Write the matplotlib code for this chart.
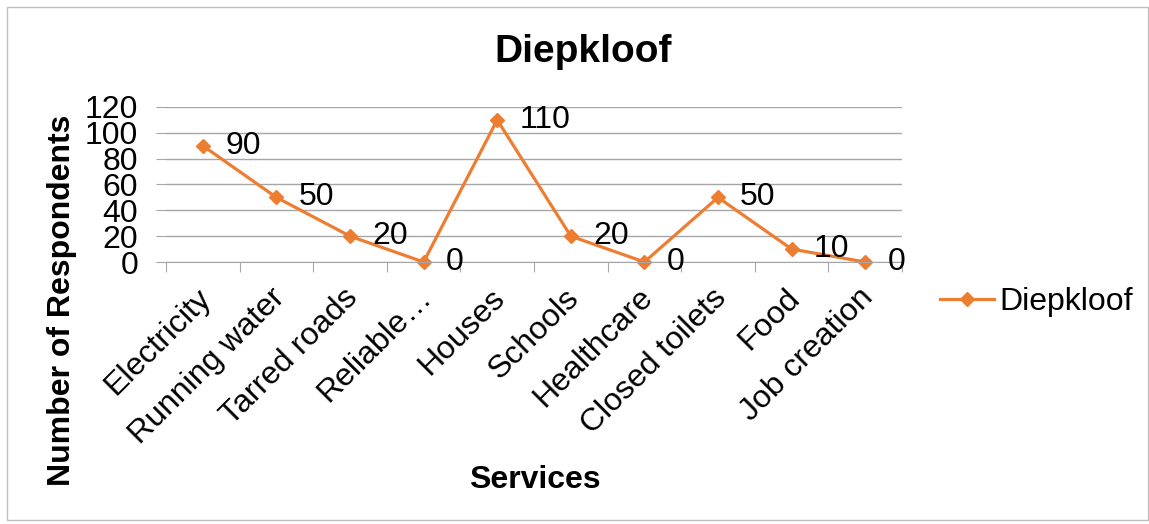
import matplotlib
matplotlib.use("Agg")
import matplotlib.pyplot as plt
import matplotlib.transforms as mtransforms
from matplotlib.patches import Rectangle
from matplotlib.lines import Line2D

categories = ["Electricity", "Running water", "Tarred roads", "Reliable…", "Houses",
              "Schools", "Healthcare", "Closed toilets", "Food", "Job creation"]
values = [90, 50, 20, 0, 110, 20, 0, 50, 10, 0]
yticks = [0, 20, 40, 60, 80, 100, 120]
series_name = "Diepkloof"

plt.rcParams['font.family'] = ['Liberation Sans', 'DejaVu Sans']
color = '#ED7D31'
grid_c = '#A6A6A6'
FS = 23

W, H = 1149, 524
fig = plt.figure(figsize=(W / 100, H / 100), dpi=100)
fig.patches.append(Rectangle((7 / W, 4 / H), 1 - 8 / W, 1 - 11 / H, transform=fig.transFigure,
                             fill=False, edgecolor='#BFBFBF', linewidth=1))

ax = fig.add_axes([166 / W, 1 - 262 / H, (902 - 166) / W, (262 - 107) / H])
x = list(range(len(categories)))
ax.plot(x, values, color=color, linewidth=2.3, marker='D', markersize=7, clip_on=False)
for xi, v in zip(x, values):
    ax.annotate(str(v), (xi, v), xytext=(16, 0), textcoords='offset points',
                ha='left', va='center', fontsize=FS, color='black')

ax.set_xlim(-0.5, len(categories) - 0.5)
ax.set_ylim(0, 120)
ax.set_yticks(yticks)
ax.set_yticklabels([str(t) for t in yticks], fontsize=FS)
ax.yaxis.grid(True, color=grid_c, linewidth=1)
ax.set_axisbelow(True)
ax.tick_params(axis='y', length=7, color=grid_c, pad=13)
ax.set_xticks([i - 0.5 for i in range(len(categories) + 1)])
ax.set_xticklabels([])
ax.tick_params(axis='x', length=7, color=grid_c)
ax.set_xticks(x, minor=True)
ax.set_xticklabels(categories, minor=True, rotation=45, ha='right', va='top',
                   rotation_mode='anchor', fontsize=FS)
ax.tick_params(axis='x', which='minor', length=0, pad=12)
shift = mtransforms.ScaledTranslation(-7 / 100, -4 / 100, fig.dpi_scale_trans)
for lbl in ax.get_xticklabels(minor=True):
    lbl.set_transform(lbl.get_transform() + shift)
for s in ['top', 'right', 'left']:
    ax.spines[s].set_visible(False)
ax.spines['bottom'].set_color(grid_c)

fig.text(583 / W, 1 - 52 / H, "Diepkloof", ha='center', va='center', fontsize=28, fontweight='bold')
fig.text(62 / W, 1 - 300 / H, "Number of Respondents", ha='center', va='center', rotation=90,
         fontsize=FS, fontweight='bold')
fig.text(535 / W, 1 - 480 / H, "Services", ha='center', va='center', fontsize=FS, fontweight='bold')

handle = Line2D([], [], color=color, linewidth=2.3, marker='D', markersize=7)
fig.legend([handle], [series_name], loc='center left', bbox_to_anchor=(940 / W, 1 - 302 / H),
           frameon=False, fontsize=FS, handlelength=1.7, handletextpad=0.15, borderpad=0,
           borderaxespad=0)

fig.savefig("out.png", dpi=100)
